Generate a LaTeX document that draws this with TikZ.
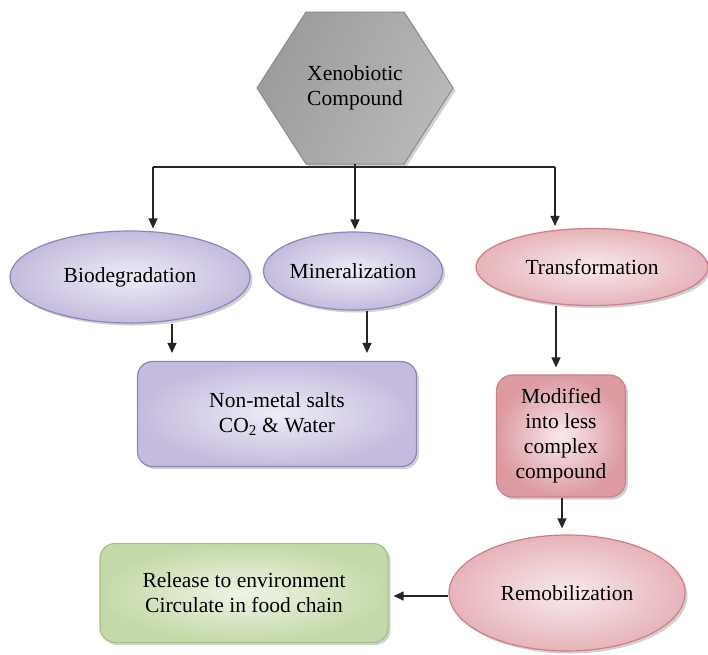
\documentclass[tikz,border=0pt]{standalone}
\usepackage{fontspec}
\setmainfont{Liberation Serif}
\usetikzlibrary{shapes.geometric,arrows.meta,shadows}
\definecolor{lavB}{HTML}{8E84C0}
\definecolor{lavI}{HTML}{EFECF7}
\definecolor{lavO}{HTML}{C4BBDD}
\definecolor{pinkB}{HTML}{CF7E87}
\definecolor{pinkI}{HTML}{F9EAEC}
\definecolor{pinkO}{HTML}{E6B4B9}
\definecolor{pinkO2}{HTML}{DC9AA1}
\definecolor{grnB}{HTML}{A3C27F}
\definecolor{grnI}{HTML}{EFF5E7}
\definecolor{grnO}{HTML}{C4D9A7}
\definecolor{hexB}{HTML}{8A8A8A}
\begin{document}
\begin{tikzpicture}[x=1pt,y=-1pt,
  font=\fontsize{21.5}{25}\selectfont,
  conn/.style={line width=1.3pt, draw=black!85},
  arr/.style={conn,-{Triangle[length=10pt,width=9pt]}},
  shd/.style={drop shadow={shadow xshift=2.5pt,shadow yshift=-2.5pt,opacity=0.3,fill=black!60}},
  lavell/.style={ellipse, draw=lavB, line width=1.2pt, inner color=lavI, outer color=lavO, shd, inner sep=0pt},
  pinkell/.style={ellipse, draw=pinkB, line width=1.2pt, inner color=pinkI, outer color=pinkO, shd, inner sep=0pt},
  lavbox/.style={rectangle, rounded corners=15pt, draw=lavB, line width=1.2pt, inner color=lavI, outer color=lavO, shd, align=center},
  pinkbox/.style={rectangle, rounded corners=16pt, draw=pinkB, line width=1.2pt, inner color=pinkI, outer color=pinkO2, shd, align=center},
  grnbox/.style={rectangle, rounded corners=15pt, draw=grnB, line width=1.2pt, inner color=grnI, outer color=grnO, shd, align=center}
]
\useasboundingbox (0,0) rectangle (708,654);

% hexagon
\begin{scope}[shift={(355,88)}]
\shade[draw=hexB, line width=1pt, shd, left color=gray!78, middle color=gray!14, right color=gray!55, shading angle=65]
  (-98,0) -- (-49,-76) -- (49,-76) -- (98,0) -- (49,76) -- (-49,76) -- cycle;
\end{scope}
\node[align=center] (hex) at (355,88) {Xenobiotic\\Compound};
\coordinate (hexb) at (355,164);

% nodes
\node[lavell, minimum width=240pt, minimum height=92pt] (bio) at (130,277) {Biodegradation};
\node[lavell, minimum width=175pt, minimum height=78pt] (min) at (353,271) {Mineralization};
\node[pinkell, minimum width=232pt, minimum height=77pt] (tra) at (592,267) {Transformation};
\node[lavbox, minimum width=279pt, minimum height=105pt] (nms) at (277,414) {Non-metal salts\\CO\textsubscript{2} \& Water};
\node[pinkbox, minimum width=129pt, minimum height=122pt] (mod) at (561,436) {Modified\\into less\\complex\\compound};
\node[pinkell, minimum width=236pt, minimum height=116pt] (rem) at (567,593) {Remobilization};
\node[grnbox, minimum width=288pt, minimum height=99pt] (rel) at (244,593) {Release to environment\\Circulate in food chain};

% connectors
\coordinate (jl) at (153,167);
\coordinate (jm) at (355,167);
\coordinate (jr) at (555,167);
\draw[conn] (hexb) -- (jm);
\draw[conn] (jl) -- (jr);
\draw[arr, shorten >=2pt] (jl) -- (jl |- bio.north);
\draw[arr, shorten >=2pt] (jm) -- (jm |- min.north);
\draw[arr, shorten >=2pt] (jr) -- (jr |- tra.north);

\coordinate (x1) at (172,0);
\coordinate (x2) at (367,0);
\coordinate (x3) at (556,0);
\coordinate (x4) at (562,0);
\draw[arr, shorten >=8pt] (x1 |- bio.south) -- (x1 |- nms.north);
\draw[arr, shorten >=8pt] (x2 |- min.south) -- (x2 |- nms.north);
\draw[arr, shorten >=7pt] (x3 |- tra.south) -- (x3 |- mod.north);
\draw[arr, shorten >=6pt] (x4 |- mod.south) -- (x4 |- rem.north);
\coordinate (y1) at (0,596);
\draw[arr, shorten >=5pt] (rem.west |- y1) -- (rel.east |- y1);
\end{tikzpicture}
\end{document}
